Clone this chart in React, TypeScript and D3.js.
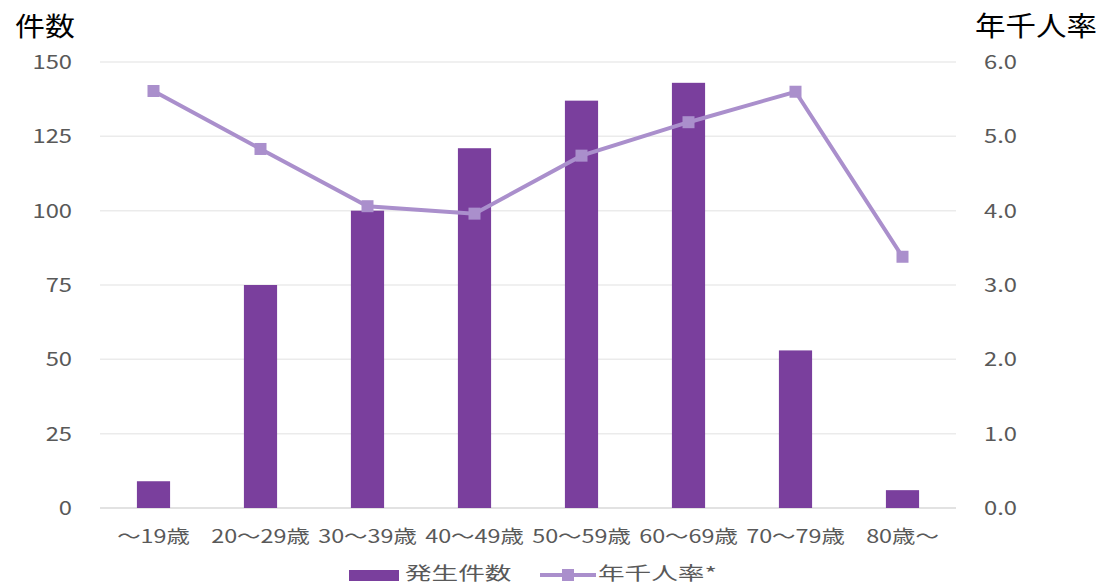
import React, { useRef, useEffect } from 'react';
import * as d3 from 'd3';

const categories = ['～19歳', '20～29歳', '30～39歳', '40～49歳', '50～59歳', '60～69歳', '70～79歳', '80歳～'];
const counts = [9, 75, 100, 121, 137, 143, 53, 6];
const rates = [5.61, 4.83, 4.06, 3.96, 4.74, 5.19, 5.6, 3.38];
const leftTicks = [0, 25, 50, 75, 100, 125, 150];
const rightTicks = [0, 1, 2, 3, 4, 5, 6];

const W = 1101;
const H = 587;
const FONT = '"Noto Sans CJK JP", "Noto Sans", sans-serif';
const BAR = '#7a3f9d';
const LINE = '#aa8fcc';

const App = () => {
  const svgRef = useRef<SVGSVGElement>(null);

  useEffect(() => {
    const svg = d3.select(svgRef.current);
    svg.selectAll('*').remove();

    const left = 100, right = 956, top = 62, bottom = 508;

    const x = d3.scaleBand<string>().domain(categories).range([left, right]).paddingInner(0.69).paddingOuter(0.345);
    const y = d3.scaleLinear().domain([0, 150]).range([bottom, top]);
    const y2 = d3.scaleLinear().domain([0, 6]).range([bottom, top]);

    // stretched text helper
    const txt = (g: any, px: number, py: number, s: string, size: number, anchor: string, color: string, sx = 1.25) =>
      g.append('text')
        .attr('transform', `translate(${px},${py}) scale(${sx},1)`)
        .attr('text-anchor', anchor)
        .attr('font-family', FONT)
        .attr('font-size', size)
        .attr('fill', color)
        .text(s);

    // gridlines
    svg.append('g').selectAll('line').data(leftTicks).enter().append('line')
      .attr('x1', left).attr('x2', right)
      .attr('y1', d => y(d)).attr('y2', d => y(d))
      .attr('stroke', d => d === 0 ? '#d9d9d9' : '#ebebeb')
      .attr('stroke-width', 1.5);

    // left ticks
    leftTicks.forEach(t => txt(svg, 72, y(t) + 7, String(t), 19, 'end', '#595959'));
    // right ticks
    rightTicks.forEach(t => txt(svg, 984, y2(t) + 7, t.toFixed(1), 19, 'start', '#595959'));

    // axis titles
    txt(svg, 15, 36, '件数', 26, 'start', '#000', 1.15);
    txt(svg, 975, 36, '年千人率', 27, 'start', '#000', 1.13);

    // bars
    svg.append('g').selectAll('rect').data(counts).enter().append('rect')
      .attr('x', (d, i) => x(categories[i])!)
      .attr('y', d => y(d))
      .attr('width', x.bandwidth())
      .attr('height', d => bottom - y(d))
      .attr('fill', BAR);

    const cx = (i: number) => x(categories[i])! + x.bandwidth() / 2;

    // line
    const line = d3.line<number>().x((d, i) => cx(i)).y(d => y2(d));
    svg.append('path').datum(rates)
      .attr('d', line)
      .attr('fill', 'none')
      .attr('stroke', LINE)
      .attr('stroke-width', 4);

    svg.append('g').selectAll('rect').data(rates).enter().append('rect')
      .attr('x', (d, i) => cx(i) - 6)
      .attr('y', d => y2(d) - 6)
      .attr('width', 12).attr('height', 12)
      .attr('fill', LINE);

    // x labels
    categories.forEach((c, i) => txt(svg, cx(i), 543, c, 18, 'middle', '#595959', 1.3));

    // legend
    svg.append('rect').attr('x', 349).attr('y', 570).attr('width', 50).attr('height', 11).attr('fill', BAR);
    txt(svg, 405, 580, '発生件数', 18, 'start', '#595959', 1.48);
    svg.append('line').attr('x1', 540).attr('x2', 596).attr('y1', 575).attr('y2', 575)
      .attr('stroke', LINE).attr('stroke-width', 4);
    svg.append('rect').attr('x', 562).attr('y', 569).attr('width', 12).attr('height', 12).attr('fill', LINE);
    txt(svg, 598, 580, '年千人率*', 18, 'start', '#595959', 1.48);
  }, []);

  return (
    <svg ref={svgRef} width={W} height={H} style={{ position: 'absolute', left: 0, top: 0, background: '#fff' }} />
  );
};

export default App;
